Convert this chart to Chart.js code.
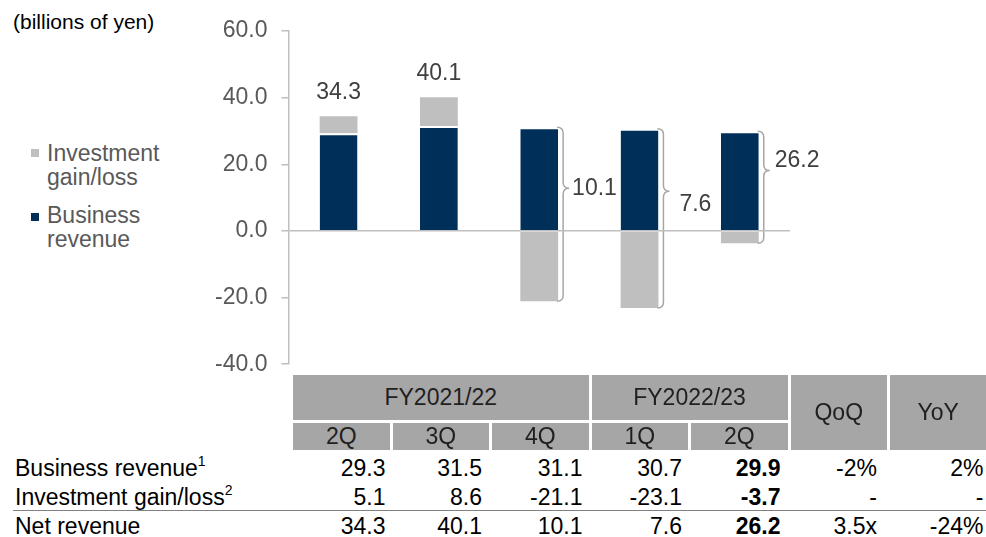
<!DOCTYPE html>
<html>
<head>
<meta charset="utf-8">
<script src="https://cdn.jsdelivr.net/npm/chart.js@4.4.1/dist/chart.umd.min.js"></script>
<style>
  html, body { margin: 0; padding: 0; background: #fff; }
  body { width: 986px; height: 537px; position: relative; overflow: hidden;
         font-family: 'Liberation Sans', Arial, sans-serif; }
  #wrap { position: absolute; left: 0; top: 0; width: 986px; height: 392px; }
  .title { position: absolute; left: 13px; top: 11px; font-size: 21px; line-height: 22px; color: #000; }
  .leg { position: absolute; left: 47px; font-size: 23px; line-height: 24px; color: #595959; }
  .leg i { position: absolute; left: -16px; width: 8px; height: 8px; }
  .hdr { position: absolute; background: #a6a6a6; color: #1f1f1f; font-size: 23px;
         display: flex; align-items: center; justify-content: center; }
  .row { position: absolute; left: 0; width: 986px; height: 30px; font-size: 23px; color: #000; }
  .row span { position: absolute; top: 0; line-height: 30px; }
  .row sup { font-size: 14px; vertical-align: 10px; line-height: 0; }
  .rule { position: absolute; left: 13px; width: 973px; top: 510px; height: 1px; background: #808080; }
</style>
</head>
<body>
<div class="title">(billions of yen)</div>
<div class="leg" style="top:141px"><i style="background:#bfbfbf;top:8px"></i>Investment<br>gain/loss</div>
<div class="leg" style="top:203px"><i style="background:#00305a;top:10px"></i>Business<br>revenue</div>
<div id="wrap"><canvas id="c"></canvas></div>
<div id="table"></div>
<script>
const quarters = ['2Q', '3Q', '4Q', '1Q', '2Q'];
const fiscalYears = ['FY2021/22', 'FY2022/23'];
const fiscalYearSpan = [3, 2];
const businessRevenue = [29.3, 31.5, 31.1, 30.7, 29.9];
const investmentGainLoss = [5.1, 8.6, -21.1, -23.1, -3.7];
const netRevenue = [34.3, 40.1, 10.1, 7.6, 26.2];
const businessChange = ['-2%', '2%'];     // QoQ, YoY
const investmentChange = ['-', '-'];
const netChange = ['3.5x', '-24%'];
const rowLabels = ['Business revenue', 'Investment gain/loss', 'Net revenue'];
const footnotes = ['1', '2', ''];
const yMin = -40, yMax = 60, yStep = 20;

const NAVY = '#00305a';
const LIGHT = '#bfbfbf';
const AXIS = '#bfbfbf';
const FONT = '"Liberation Sans", Arial, sans-serif';

// label offset from brace tip, per quarter (only used where the brace is drawn)
const braceLabelOffset = [null, null, [3, 0], [10, 13], [5, -10]];

const labelsPlugin = {
  id: 'labels',
  afterDatasetsDraw(chart) {
    const ctx = chart.ctx;
    const y = chart.scales.y;
    const meta = chart.getDatasetMeta(0);
    ctx.save();
    ctx.font = '23px ' + FONT;
    ctx.fillStyle = '#404040';
    ctx.textBaseline = 'middle';
    netRevenue.forEach((v, i) => {
      const bar = meta.data[i];
      const half = bar.width / 2;
      if (investmentGainLoss[i] >= 0) {
        ctx.textAlign = 'center';
        ctx.fillText(v.toFixed(1), bar.x, y.getPixelForValue(v) - 24);
        return;
      }
      // curly brace spanning the whole stack
      const top = y.getPixelForValue(businessRevenue[i]);
      const bot = y.getPixelForValue(investmentGainLoss[i]);
      const x0 = bar.x + half + 5;
      const r = 6;
      const tip = top + (bot - top) * 0.35;
      ctx.strokeStyle = '#a6a6a6';
      ctx.lineWidth = 1.5;
      ctx.beginPath();
      ctx.moveTo(x0 - r, top);
      ctx.quadraticCurveTo(x0, top, x0, top + r);
      ctx.lineTo(x0, tip - r);
      ctx.quadraticCurveTo(x0, tip, x0 + r, tip);
      ctx.quadraticCurveTo(x0, tip, x0, tip + r);
      ctx.lineTo(x0, bot - r);
      ctx.quadraticCurveTo(x0, bot, x0 - r, bot);
      ctx.stroke();
      const off = braceLabelOffset[i];
      ctx.textAlign = 'left';
      ctx.fillText(v.toFixed(1), x0 + r + off[0], tip + off[1]);
    });
    ctx.restore();
  }
};

new Chart(document.getElementById('c'), {
  type: 'bar',
  data: {
    labels: quarters,
    datasets: [
      {
        label: 'Business revenue',
        data: businessRevenue,
        backgroundColor: NAVY,
        borderColor: '#ffffff',
        borderWidth: { top: 2, left: 0, right: 0, bottom: 0 },
        borderSkipped: false,
        barPercentage: 0.377,
        categoryPercentage: 1,
      },
      {
        label: 'Investment gain/loss',
        data: investmentGainLoss,
        backgroundColor: LIGHT,
        borderWidth: 0,
        barPercentage: 0.377,
        categoryPercentage: 1,
      },
    ],
  },
  options: {
    responsive: true,
    maintainAspectRatio: false,
    animation: false,
    layout: { padding: { left: 201, right: 196, top: 31, bottom: 17 } },
    plugins: { legend: { display: false }, tooltip: { enabled: false } },
    scales: {
      x: { stacked: true, display: false },
      y: {
        stacked: true,
        min: yMin,
        max: yMax,
        ticks: {
          stepSize: yStep,
          padding: 14,
          color: '#595959',
          font: { family: FONT, size: 23 },
          callback: v => v.toFixed(1),
        },
        grid: {
          z: 1,
          color: c => (c.tick && c.tick.value === 0 ? AXIS : 'rgba(0,0,0,0)'),
          lineWidth: 1.5,
          tickColor: AXIS,
          tickLength: 7,
        },
        border: { display: true, color: AXIS, width: 1.5, z: 1 },
      },
    },
  },
  plugins: [labelsPlugin],
});

// table below the chart
(function () {
  const t = document.getElementById('table');
  const left = i => 293 + 99.5 * i;
  const w = 96.5;
  let html = '';
  let col = 0;
  fiscalYears.forEach((fy, k) => {
    const span = fiscalYearSpan[k];
    html += `<div class="hdr" style="left:${left(col)}px;top:375px;width:${99.5 * span - 3}px;height:45px">${fy}</div>`;
    col += span;
  });
  ['QoQ', 'YoY'].forEach((h, k) => {
    html += `<div class="hdr" style="left:${left(5 + k)}px;top:375px;width:${w}px;height:75px">${h}</div>`;
  });
  quarters.forEach((q, i) => {
    html += `<div class="hdr" style="left:${left(i)}px;top:423px;width:${w}px;height:27px">${q}</div>`;
  });
  const rows = [
    [businessRevenue.map(v => v.toFixed(1)), businessChange],
    [investmentGainLoss.map(v => v.toFixed(1)), investmentChange],
    [netRevenue.map(v => v.toFixed(1)), netChange],
  ];
  const tops = [453, 482, 511];
  const pads = [4, 7, 6, 6, 7, 10, 3];
  rows.forEach((r, k) => {
    html += `<div class="row" style="top:${tops[k]}px">`;
    html += `<span style="left:15px">${rowLabels[k]}${footnotes[k] ? '<sup>' + footnotes[k] + '</sup>' : ''}</span>`;
    const cells = r[0].concat(r[1]);
    cells.forEach((c, i) => {
      const right = 986 - (left(i) + w) + pads[i];
      const bold = i === 4 ? 'font-weight:bold;' : '';
      html += `<span style="right:${right}px;${bold}">${c}</span>`;
    });
    html += '</div>';
  });
  html += '<div class="rule"></div>';
  t.innerHTML = html;
})();
</script>
</body>
</html>
